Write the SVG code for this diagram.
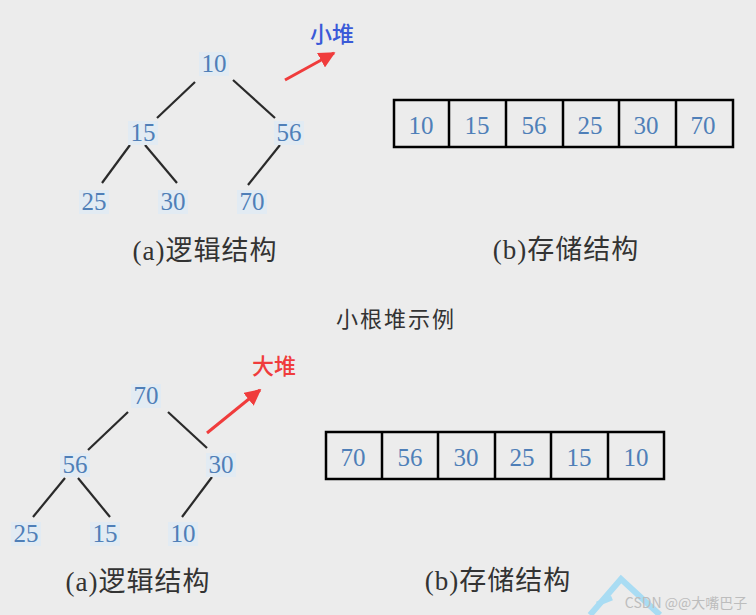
<svg xmlns="http://www.w3.org/2000/svg" width="756" height="615" viewBox="0 0 756 615">
<defs>
<style>
.num{font-family:"Liberation Serif","DejaVu Serif",serif;font-size:25px;fill:#4f7fb8;text-anchor:middle}
.hl{fill:#e2ebf3}
.edge{stroke:#2a2a2a;stroke-width:2.2;fill:none}
.cell{fill:none;stroke:#000;stroke-width:2.5}
.cap{font-family:"Liberation Serif","Noto Sans CJK SC",serif;font-size:27px;letter-spacing:1px;fill:#333;text-anchor:middle}
.tag{font-family:"Noto Sans CJK SC","Noto Sans",sans-serif;font-size:22px;font-weight:500;text-anchor:middle}
.arr{stroke:#f03c3c;stroke-width:3;fill:none}
</style>
<marker id="ah" viewBox="0 0 10 10" refX="9" refY="5" markerWidth="5.5" markerHeight="5.5" orient="auto" markerUnits="strokeWidth">
<path d="M0,0 L10,5 L0,10 z" fill="#f03c3c"/>
</marker>
</defs>
<rect width="756" height="615" fill="#ececec"/>

<g id="connectors">
<line class="edge" x1="195" y1="82" x2="157" y2="118"/>
<line class="edge" x1="233" y1="80" x2="275" y2="118"/>
<line class="edge" x1="130" y1="145" x2="102" y2="183"/>
<line class="edge" x1="145" y1="145" x2="177" y2="183"/>
<line class="edge" x1="280" y1="145" x2="248" y2="185"/>
<line class="edge" x1="128" y1="412" x2="88" y2="450"/>
<line class="edge" x1="168" y1="412" x2="207" y2="448"/>
<line class="edge" x1="65" y1="478" x2="33" y2="517"/>
<line class="edge" x1="78" y1="478" x2="110" y2="517"/>
<line class="edge" x1="212" y1="477" x2="182" y2="517"/>
<line class="arr" x1="285" y1="80" x2="334" y2="53" marker-end="url(#ah)"/>
<line class="arr" x1="207" y1="433" x2="260" y2="390" marker-end="url(#ah)"/>
</g>

<g id="top-tree">
<g id="t10"><rect class="hl" x="199" y="52" width="30" height="24"/><text class="num" x="214" y="72">10</text></g>
<g id="t15"><rect class="hl" x="128" y="121" width="30" height="24"/><text class="num" x="143" y="141">15</text></g>
<g id="t56"><rect class="hl" x="274" y="121" width="30" height="24"/><text class="num" x="289" y="141">56</text></g>
<g id="t25"><rect class="hl" x="79" y="190" width="30" height="24"/><text class="num" x="94" y="210">25</text></g>
<g id="t30"><rect class="hl" x="158" y="190" width="30" height="24"/><text class="num" x="173" y="210">30</text></g>
<g id="t70"><rect class="hl" x="237" y="190" width="30" height="24"/><text class="num" x="252" y="210">70</text></g>
</g>
<text class="cap" x="205" y="260">(a)逻辑结构</text>
<text class="tag" x="332" y="42" fill="#3a5ad8">小堆</text>

<g id="top-array">
<rect class="cell" x="394" y="100" width="339" height="47"/>
<line class="cell" x1="449" y1="100" x2="449" y2="147" stroke-width="3.5"/>
<line class="cell" x1="506" y1="100" x2="506" y2="147"/>
<line class="cell" x1="563" y1="100" x2="563" y2="147"/>
<line class="cell" x1="619" y1="100" x2="619" y2="147"/>
<line class="cell" x1="676" y1="100" x2="676" y2="147"/>
<text class="num" x="421" y="134">10</text>
<text class="num" x="477" y="134">15</text>
<text class="num" x="534" y="134">56</text>
<text class="num" x="590" y="134">25</text>
<text class="num" x="646" y="134">30</text>
<text class="num" x="703" y="134">70</text>
</g>
<text class="cap" x="566" y="259">(b)存储结构</text>

<text x="396" y="327" font-family="Noto Sans CJK SC,sans-serif" font-size="22" letter-spacing="2" fill="#333" text-anchor="middle">小根堆示例</text>

<g id="bottom-tree">
<g id="b70"><rect class="hl" x="131" y="384" width="30" height="24"/><text class="num" x="146" y="404">70</text></g>
<g id="b56"><rect class="hl" x="60" y="453" width="30" height="24"/><text class="num" x="75" y="473">56</text></g>
<g id="b30"><rect class="hl" x="206" y="453" width="30" height="24"/><text class="num" x="221" y="473">30</text></g>
<g id="b25"><rect class="hl" x="11" y="522" width="30" height="24"/><text class="num" x="26" y="542">25</text></g>
<g id="b15"><rect class="hl" x="90" y="522" width="30" height="24"/><text class="num" x="105" y="542">15</text></g>
<g id="b10"><rect class="hl" x="168" y="522" width="30" height="24"/><text class="num" x="183" y="542">10</text></g>
</g>
<text class="cap" x="138" y="591">(a)逻辑结构</text>
<text class="tag" x="274" y="374" fill="#f03c3c">大堆</text>

<g id="bottom-array">
<rect class="cell" x="326" y="432" width="338" height="47"/>
<line class="cell" x1="382" y1="432" x2="382" y2="479"/>
<line class="cell" x1="438" y1="432" x2="438" y2="479" stroke-width="3.5"/>
<line class="cell" x1="495" y1="432" x2="495" y2="479"/>
<line class="cell" x1="551" y1="432" x2="551" y2="479"/>
<line class="cell" x1="608" y1="432" x2="608" y2="479"/>
<text class="num" x="353" y="466">70</text>
<text class="num" x="410" y="466">56</text>
<text class="num" x="466" y="466">30</text>
<text class="num" x="522" y="466">25</text>
<text class="num" x="579" y="466">15</text>
<text class="num" x="636" y="466">10</text>
</g>
<text class="cap" x="498" y="590">(b)存储结构</text>

<polyline points="590,615 621,579 660,615" fill="none" stroke="#a9dcf3" stroke-width="6"/>
<line x1="597" y1="604" x2="612" y2="598" stroke="#a9dcf3" stroke-width="5"/>
<text x="686" y="608" font-family="Noto Sans CJK SC,sans-serif" font-size="14" fill="#bdbdbd" text-anchor="middle">CSDN @@大嘴巴子</text>
</svg>
